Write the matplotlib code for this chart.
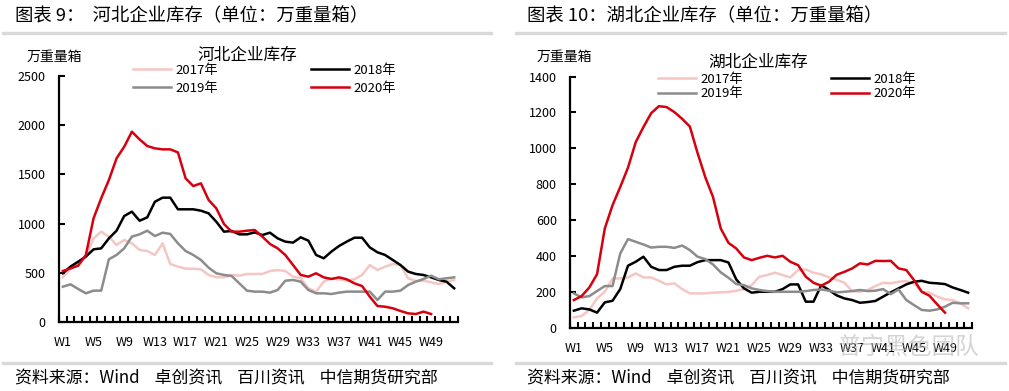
import numpy as np
import matplotlib
matplotlib.use("Agg")
import matplotlib.pyplot as plt
from matplotlib.lines import Line2D

plt.rcParams['font.family'] = ['Noto Sans CJK SC', 'DejaVu Sans']

# week labels
weeks = ['W%d' % i for i in range(1, 53)]
label_weeks = list(range(0, 52, 4))

# 河北企业库存 (万重量箱)
hb_2017 = [456, 541, 598, 666, 851, 919, 869, 784, 835, 801, 734, 723, 683, 801, 591, 565,
           544, 544, 537, 480, 456, 456, 480, 473, 490, 490, 490, 520, 530, 520, 463, 446,
           345, 311, 412, 446, 436, 422, 436, 480, 581, 530, 564, 591, 581, 446, 419, 422,
           405, 388, 412, 429]
hb_2018 = [497, 565, 615, 666, 740, 750, 851, 929, 1078, 1122, 1030, 1064, 1223, 1264, 1264, 1146,
           1146, 1146, 1132, 1105, 1020, 919, 926, 892, 892, 912, 885, 909, 851, 818, 808, 862,
           828, 683, 649, 717, 774, 818, 858, 858, 760, 710, 683, 632, 581, 514, 490, 480,
           456, 429, 412, 345]
hb_2019 = [361, 385, 338, 294, 321, 321, 639, 683, 750, 869, 892, 929, 875, 909, 896, 801,
           723, 683, 632, 554, 497, 480, 470, 395, 321, 311, 311, 301, 328, 422, 429, 412,
           328, 294, 294, 287, 301, 311, 311, 311, 311, 226, 311, 311, 321, 378, 412, 439,
           473, 436, 446, 456]
hb_2020 = [520, 547, 574, 682, 1054, 1258, 1443, 1663, 1781, 1933, 1855, 1788, 1764, 1754, 1754, 1723,
           1460, 1382, 1409, 1240, 1156, 997, 919, 919, 929, 936, 869, 794, 750, 682, 581, 480,
           463, 497, 456, 439, 456, 436, 395, 368, 260, 165, 158, 142, 115, 91, 84, 108,
           84]

# 湖北企业库存 (万重量箱)
hub_2017 = [61, 68, 102, 166, 203, 277, 277, 283, 305, 283, 283, 264, 244, 250, 218, 194,
            194, 194, 198, 200, 202, 209, 218, 240, 287, 296, 309, 296, 283, 324, 327, 309,
            300, 283, 270, 253, 207, 203, 213, 235, 253, 250, 259, 262, 250, 203, 198, 176,
            161, 157, 139, 111]
hub_2018 = [98, 111, 105, 87, 144, 153, 218, 348, 370, 398, 342, 324, 324, 342, 348, 348,
            368, 379, 379, 379, 366, 272, 222, 198, 203, 203, 203, 218, 244, 244, 148, 148,
            240, 213, 183, 166, 157, 142, 146, 152, 176, 200, 222, 244, 259, 264, 253, 250,
            246, 227, 213, 198]
hub_2019 = [194, 172, 179, 207, 235, 235, 416, 496, 481, 466, 449, 453, 453, 447, 460, 435,
            398, 385, 355, 311, 281, 246, 240, 222, 213, 207, 203, 203, 203, 203, 207, 213,
            216, 209, 200, 203, 207, 213, 207, 209, 218, 190, 216, 157, 129, 102, 98, 105,
            120, 142, 139, 139]
hub_2020 = [157, 179, 227, 301, 555, 684, 786, 893, 1035, 1119, 1196, 1235, 1230, 1202, 1165, 1122,
            975, 840, 730, 555, 475, 444, 394, 379, 392, 403, 394, 403, 370, 351, 287, 253,
            237, 259, 298, 314, 333, 361, 355, 375, 374, 375, 333, 324, 268, 203, 181, 133,
            87]

years = ['2017年', '2018年', '2019年', '2020年']
colors = ['#f5c6c4', '#000000', '#8c8c8c', '#d7000f']

W, H = 1009, 391
fig = plt.figure(figsize=(W / 100, H / 100), dpi=100)


def fx(px):
    return px / W


def fy(py):
    return 1 - py / H


def draw_panel(rect, series, ymax, ystep, title, title_xy, unit_xy, leg_xy, colsp, lsp):
    ax = fig.add_axes(rect)
    handles = []
    for vals, c, name in zip(series, colors, years):
        ln, = ax.plot(np.arange(len(vals)), vals, color=c, lw=1.8, label=name,
                      solid_joinstyle='round')
        handles.append(ln)
    ax.set_xlim(-0.5, 51.5)
    ax.set_ylim(0, ymax)
    ax.set_yticks(np.arange(0, ymax + 1, ystep))
    ax.set_xticks(label_weeks)
    ax.set_xticklabels([weeks[i] for i in label_weeks])
    ax.set_xticks(np.arange(-0.5, 52, 1), minor=True)
    ax.tick_params(axis='x', which='major', length=0, pad=10, labelsize=9)
    ax.tick_params(axis='x', which='minor', direction='in', length=4, width=1.5)
    ax.tick_params(axis='y', direction='in', length=4, width=1.5, labelsize=9, pad=9.5)
    for s in ['top', 'right']:
        ax.spines[s].set_visible(False)
    for s in ['left', 'bottom']:
        ax.spines[s].set_linewidth(1.6)
    ax.set_facecolor('none')
    fig.text(fx(title_xy[0]), fy(title_xy[1]), title, fontsize=12, ha='center', va='center')
    fig.text(fx(unit_xy[0]), fy(unit_xy[1]), '万重量箱', fontsize=10, ha='left', va='center')
    order = [0, 2, 1, 3]
    fig.legend([handles[i] for i in order], [years[i] for i in order], ncol=2,
               loc='upper left', bbox_to_anchor=(fx(leg_xy[0]), fy(leg_xy[1])),
               frameon=False, fontsize=9.5, handlelength=2.9, handletextpad=0.35,
               columnspacing=colsp, labelspacing=lsp, borderpad=0, borderaxespad=0)
    return ax


ax1 = draw_panel([fx(59), fy(322.3), fx(399), (322.3 - 75.8) / H],
                 [hb_2017, hb_2018, hb_2019, hb_2020], 2500, 500,
                 '河北企业库存', (247, 55), (27, 57), (133, 64), 7.0, 0.38)
ax2 = draw_panel([fx(570), fy(328.3), fx(402), (328.3 - 76.5) / H],
                 [hub_2017, hub_2018, hub_2019, hub_2020], 1400, 200,
                 '湖北企业库存', (758, 62), (537, 57), (658, 72.5), 6.6, 0.14)

# headers, separators and source notes
fig.text(fx(15), fy(16), '图表 9：  河北企业库存（单位：万重量箱）', fontsize=13.2,
         ha='left', va='center')
fig.text(fx(527), fy(16), '图表 10：湖北企业库存（单位：万重量箱）', fontsize=13.2,
         ha='left', va='center')
for x0, x1 in [(3, 491), (516, 1005)]:
    for yy in (33, 363):
        fig.add_artist(Line2D([fx(x0), fx(x1)], [fy(yy), fy(yy)], color='#d9d9d9', lw=2.4))
src = '资料来源：Wind    卓创资讯    百川资讯    中信期货研究部'
fig.text(fx(15), fy(378), src, fontsize=12.2, ha='left', va='center')
fig.text(fx(527), fy(378), src, fontsize=12.2, ha='left', va='center')

# watermark
fig.text(fx(838), fy(347), '普宁黑色团队', fontsize=17, color='#b8b8b8', alpha=0.6,
         ha='left', va='center')

fig.savefig('out.png', dpi=100)
